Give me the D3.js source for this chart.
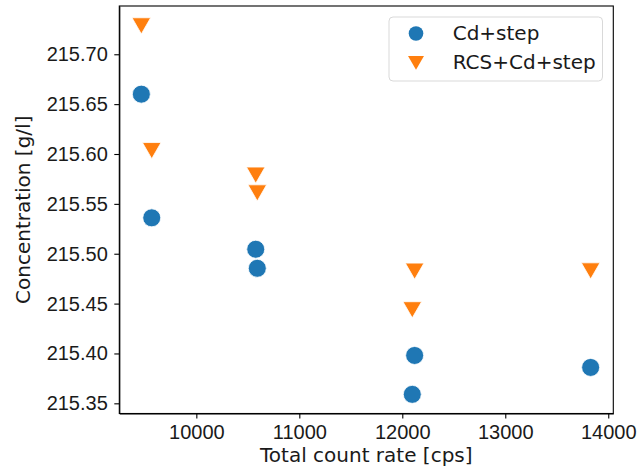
<!DOCTYPE html>
<html>
<head>
<meta charset="utf-8" />
<script src="https://d3js.org/d3.v7.min.js"></script>
<style>
    body { margin: 0; background: #fff; }
    svg { font-family: "DejaVu Sans", sans-serif; }
    .axis text { font-size: 20px; fill: #1a1a1a; }
    .axis path, .axis line { stroke: #000; stroke-width: 1.1; }
</style>
</head>
<body>
<div id="visu"></div>
<script>
    // Series values
    const cdRate = [9466, 9567, 10577, 10592, 12120, 12097, 13829];
    const cdConc = [215.660, 215.536, 215.5045, 215.4854, 215.398, 215.359, 215.386];
    const rcsRate = [9466, 9567, 10577, 10592, 12120, 12097, 13829];
    const rcsConc = [215.7297, 215.6046, 215.580, 215.5622, 215.4837, 215.445, 215.484];

    const xTicks = [10000, 11000, 12000, 13000, 14000];
    const yTicks = [215.35, 215.40, 215.45, 215.50, 215.55, 215.60, 215.65, 215.70];

    const seriesNames = ["Cd+step", "RCS+Cd+step"];
    const colors = ["#1f77b4", "#ff7f0e"];

    const width = 639, height = 470;
    const mLeft = 119.3, mRight = 613.3, mTop = 6, mBottom = 413.5;

    const svg = d3.select("#visu").append("svg")
        .attr("width", width)
        .attr("height", height);

    const x = d3.scaleLinear().domain([9252, 14049]).range([mLeft, mRight]);
    const y = d3.scaleLinear().domain([215.3398, 215.7484]).range([mBottom, mTop]);

    // axes
    svg.append("g")
        .attr("class", "axis")
        .attr("transform", `translate(0,${mBottom})`)
        .call(d3.axisBottom(x).tickValues(xTicks).tickFormat(d3.format("d")).tickSize(5).tickPadding(6.5).tickSizeOuter(0));

    svg.append("g")
        .attr("class", "axis")
        .attr("transform", `translate(${mLeft},0)`)
        .call(d3.axisLeft(y).tickValues(yTicks).tickFormat(d3.format(".2f")).tickSize(5).tickPadding(6.5).tickSizeOuter(0));

    // cadre
    svg.append("rect")
        .attr("x", mLeft).attr("y", mTop)
        .attr("width", mRight - mLeft).attr("height", mBottom - mTop)
        .attr("fill", "none").attr("stroke", "#000").attr("stroke-width", 1.1);

    // titres des axes
    svg.append("text")
        .attr("x", (mLeft + mRight) / 2)
        .attr("y", 462)
        .attr("text-anchor", "middle")
        .style("font-size", "20px").style("fill", "#1a1a1a")
        .text("Total count rate [cps]");

    svg.append("text")
        .attr("transform", `translate(30,${(mTop + mBottom) / 2}) rotate(-90)`)
        .attr("text-anchor", "middle")
        .style("font-size", "20px").style("fill", "#1a1a1a")
        .text("Concentration [g/l]");

    // points
    const cdData = cdRate.map((r, i) => ({ r, c: cdConc[i] }));
    const rcsData = rcsRate.map((r, i) => ({ r, c: rcsConc[i] }));

    svg.append("g").selectAll("circle")
        .data(cdData)
        .enter().append("circle")
        .attr("cx", d => x(d.r))
        .attr("cy", d => y(d.c))
        .attr("r", 9)
        .attr("fill", colors[0])
        .attr("stroke", "#fff").attr("stroke-width", 0.8);

    const tri = d3.symbol().type(d3.symbolTriangle).size(150);
    svg.append("g").selectAll("path")
        .data(rcsData)
        .enter().append("path")
        .attr("d", tri)
        .attr("transform", d => `translate(${x(d.r)},${y(d.c) - 1.5}) rotate(180)`)
        .attr("fill", colors[1])
        .attr("stroke", "#fff").attr("stroke-width", 0.8);

    // légende
    const lg = svg.append("g");
    lg.append("rect")
        .attr("x", 389).attr("y", 17)
        .attr("width", 213.5).attr("height", 64)
        .attr("rx", 4)
        .attr("fill", "#fff").attr("fill-opacity", 0.8)
        .attr("stroke", "#d9d9d9").attr("stroke-width", 1);

    lg.append("circle")
        .attr("cx", 416).attr("cy", 33.5)
        .attr("r", 7.3)
        .attr("fill", colors[0]);
    lg.append("path")
        .attr("d", d3.symbol().type(d3.symbolTriangle).size(110))
        .attr("transform", "translate(416,60.5) rotate(180)")
        .attr("fill", colors[1]);

    lg.selectAll("text")
        .data(seriesNames)
        .enter().append("text")
        .attr("x", 452.7)
        .attr("y", (d, i) => 39.5 + i * 29)
        .style("font-size", "20px").style("fill", "#1a1a1a")
        .text(d => d);
</script>
</body>
</html>
